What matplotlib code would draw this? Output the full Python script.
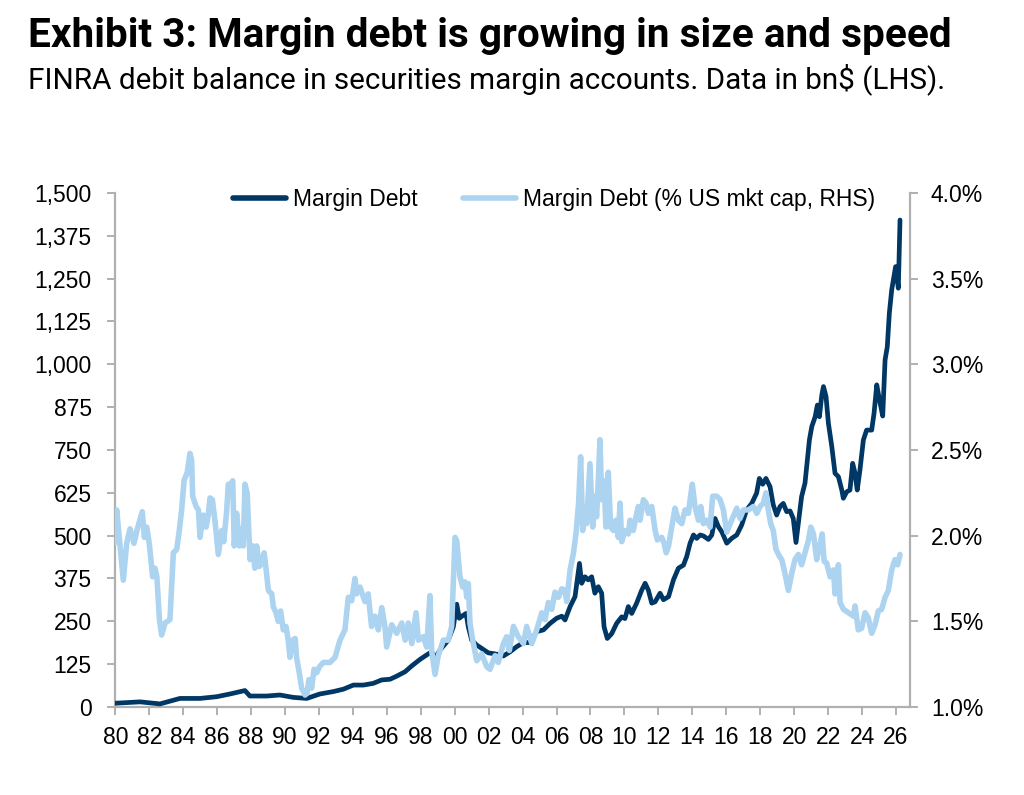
import matplotlib
matplotlib.use("Agg")
import matplotlib.pyplot as plt
from matplotlib.ticker import FuncFormatter, FixedLocator
from matplotlib.lines import Line2D

# ---- data ----
debt_years = [1980.0, 1981.46, 1982.63, 1983.81, 1984.99, 1985.97, 1986.76, 1987.64, 1987.93,
              1988.92, 1989.7, 1990.49, 1991.28, 1992.06, 1992.85, 1993.44, 1994.03, 1994.62,
              1995.2, 1995.7, 1996.19, 1996.58, 1997.08, 1997.47, 1997.96, 1998.35, 1998.64,
              1998.84, 1999.13, 1999.62, 1999.92, 2000.12, 2000.27, 2000.51, 2000.67, 2000.8,
              2001.0, 2001.29, 2001.59, 2001.98, 2002.38, 2002.87, 2003.26, 2003.65, 2004.05,
              2004.44, 2004.83, 2005.23, 2005.62, 2006.01, 2006.31, 2006.5, 2006.8, 2007.09,
              2007.35, 2007.48, 2007.68, 2007.87, 2008.07, 2008.26, 2008.46, 2008.66, 2008.8,
              2008.99, 2009.25, 2009.54, 2009.84, 2010.03, 2010.23, 2010.43, 2010.72, 2011.02,
              2011.22, 2011.41, 2011.61, 2011.81, 2012.1, 2012.3, 2012.6, 2012.89, 2013.18,
              2013.48, 2013.67, 2013.87, 2014.07, 2014.26, 2014.46, 2014.66, 2014.95, 2015.15,
              2015.34, 2015.54, 2015.74, 2016.03, 2016.32, 2016.62, 2016.91, 2017.2, 2017.5,
              2017.79, 2017.95, 2018.15, 2018.34, 2018.58, 2018.77, 2018.97, 2019.17, 2019.36,
              2019.56, 2019.76, 2019.95, 2020.11, 2020.25, 2020.44, 2020.64, 2020.9, 2021.04,
              2021.24, 2021.37, 2021.49, 2021.63, 2021.73, 2021.88, 2022.02, 2022.22, 2022.41,
              2022.61, 2022.81, 2022.9, 2023.1, 2023.29, 2023.45, 2023.59, 2023.72, 2023.88,
              2024.08, 2024.27, 2024.57, 2024.71, 2024.87, 2025.03, 2025.22, 2025.36, 2025.49,
              2025.61, 2025.75, 2025.88, 2025.98, 2026.14, 2026.24]
debt_bn = [11, 15, 9, 25, 25, 30, 38, 48, 32,
           32, 35, 28, 25, 38, 45, 52, 64, 64,
           69, 79, 81, 90, 103, 120, 139, 152, 161,
           142, 166, 195, 234, 300, 259, 268, 273, 234,
           195, 181, 171, 158, 155, 149, 161, 176, 188,
           188, 220, 225, 244, 259, 265, 254, 293, 322,
           419, 361, 380, 371, 380, 332, 351, 332, 234,
           200, 214, 244, 263, 258, 293, 273, 303, 341,
           361, 341, 303, 307, 332, 313, 322, 371, 405,
           414, 439, 478, 502, 492, 502, 499, 489, 502,
           550, 526, 511, 478, 492, 502, 531, 575, 594,
           624, 667, 650, 667, 643, 590, 560, 585, 594,
           570, 572, 550, 480, 536, 614, 653, 779, 818,
           847, 881, 847, 910, 935, 906, 828, 760, 682,
           672, 633, 609, 628, 633, 711, 682, 633, 692,
           779, 808, 808, 857, 940, 896, 849, 1013, 1051,
           1149, 1217, 1256, 1285, 1222, 1421]

pct_years = [1980.0, 1980.08, 1980.47, 1980.67, 1980.87, 1981.1, 1981.3, 1981.59, 1981.71, 1981.85,
             1982.0, 1982.2, 1982.34, 1982.45, 1982.6, 1982.73, 1982.93, 1983.22, 1983.42, 1983.62,
             1983.77, 1983.91, 1984.05, 1984.24, 1984.4, 1984.5, 1984.56, 1984.76, 1984.9, 1984.99,
             1985.19, 1985.35, 1985.48, 1985.58, 1985.72, 1985.87, 1986.07, 1986.27, 1986.39, 1986.56,
             1986.66, 1986.8, 1986.92, 1987.01, 1987.15, 1987.31, 1987.44, 1987.54, 1987.64, 1987.77,
             1987.94, 1988.1, 1988.22, 1988.33, 1988.49, 1988.63, 1988.77, 1988.89, 1989.02, 1989.22,
             1989.31, 1989.47, 1989.6, 1989.74, 1989.9, 1990.06, 1990.19, 1990.29, 1990.45, 1990.6,
             1990.68, 1990.84, 1990.98, 1991.18, 1991.3, 1991.41, 1991.57, 1991.71, 1991.87, 1992.03,
             1992.26, 1992.65, 1992.95, 1993.24, 1993.53, 1993.73, 1993.93, 1994.12, 1994.22, 1994.42,
             1994.71, 1994.9, 1995.1, 1995.3, 1995.5, 1995.7, 1995.89, 1995.99, 1996.29, 1996.58,
             1996.88, 1997.08, 1997.27, 1997.47, 1997.72, 1997.86, 1998.15, 1998.35, 1998.54, 1998.64,
             1998.84, 1999.03, 1999.33, 1999.62, 1999.82, 2000.02, 2000.12, 2000.31, 2000.47, 2000.61,
             2000.71, 2000.8, 2000.9, 2001.06, 2001.3, 2001.59, 2001.89, 2002.08, 2002.38, 2002.57,
             2002.87, 2003.06, 2003.22, 2003.46, 2003.75, 2004.05, 2004.24, 2004.54, 2004.83, 2005.13,
             2005.32, 2005.52, 2005.72, 2005.91, 2006.11, 2006.31, 2006.5, 2006.6, 2006.8, 2007.0,
             2007.15, 2007.3, 2007.42, 2007.54, 2007.68, 2007.77, 2007.97, 2008.13, 2008.26, 2008.36,
             2008.46, 2008.56, 2008.66, 2008.8, 2008.91, 2009.05, 2009.19, 2009.35, 2009.5, 2009.64,
             2009.74, 2009.84, 2010.03, 2010.23, 2010.33, 2010.52, 2010.68, 2010.82, 2010.92, 2011.12,
             2011.28, 2011.41, 2011.61, 2011.81, 2011.94, 2012.2, 2012.34, 2012.46, 2012.6, 2012.79,
             2012.98, 2013.18, 2013.38, 2013.57, 2013.77, 2013.87, 2014.0, 2014.16, 2014.36, 2014.5,
             2014.65, 2014.85, 2015.05, 2015.2, 2015.44, 2015.64, 2015.83, 2016.03, 2016.32, 2016.62,
             2016.81, 2017.01, 2017.3, 2017.6, 2017.8, 2017.99, 2018.19, 2018.34, 2018.48, 2018.62,
             2018.77, 2018.93, 2019.13, 2019.27, 2019.46, 2019.66, 2019.86, 2020.05, 2020.25, 2020.44,
             2020.64, 2020.84, 2020.98, 2021.14, 2021.33, 2021.53, 2021.65, 2021.77, 2021.92, 2022.12,
             2022.32, 2022.41, 2022.61, 2022.71, 2022.91, 2023.2, 2023.5, 2023.59, 2023.78, 2023.98,
             2024.18, 2024.37, 2024.57, 2024.77, 2024.96, 2025.16, 2025.36, 2025.55, 2025.75, 2025.94,
             2026.1, 2026.24]
pct_mktcap = [1.96, 2.15, 1.74, 1.955, 2.04, 1.955, 2.04, 2.14, 1.99, 2.05,
              1.955, 1.76, 1.81, 1.76, 1.51, 1.42, 1.49, 1.51, 1.90, 1.92,
              2.03, 2.15, 2.32, 2.37, 2.48, 2.44, 2.23, 2.17, 2.15, 1.99,
              2.12, 2.05, 2.12, 2.22, 2.21, 2.09, 1.89, 2.03, 1.965, 2.14,
              2.30, 2.30, 2.32, 1.94, 2.13, 1.94, 2.04, 1.94, 2.30, 2.25,
              1.86, 1.94, 1.81, 1.94, 1.82, 1.84, 1.90, 1.80, 1.68, 1.66,
              1.585, 1.55, 1.50, 1.56, 1.45, 1.47, 1.39, 1.29, 1.39, 1.40,
              1.29, 1.20, 1.11, 1.07, 1.08, 1.16, 1.11, 1.22, 1.20, 1.235,
              1.26, 1.26, 1.29, 1.39, 1.45, 1.64, 1.62, 1.75, 1.66, 1.70,
              1.615, 1.66, 1.47, 1.53, 1.45, 1.58, 1.47, 1.35, 1.48, 1.43,
              1.49, 1.39, 1.49, 1.37, 1.55, 1.39, 1.41, 1.35, 1.65, 1.33,
              1.19, 1.30, 1.39, 1.39, 1.47, 1.99, 1.97, 1.76, 1.70, 1.73,
              1.64, 1.72, 1.49, 1.39, 1.27, 1.31, 1.235, 1.22, 1.30, 1.26,
              1.37, 1.41, 1.33, 1.47, 1.41, 1.37, 1.47, 1.37, 1.45, 1.55,
              1.51, 1.61, 1.57, 1.67, 1.64, 1.69, 1.68, 1.615, 1.80, 1.90,
              2.015, 2.19, 2.46, 2.03, 2.13, 2.07, 2.42, 2.05, 2.23, 2.11,
              2.32, 2.56, 2.21, 2.32, 2.05, 2.37, 2.05, 2.03, 2.09, 1.99,
              2.19, 1.965, 2.03, 2.01, 2.09, 2.03, 2.11, 2.17, 2.09, 2.21,
              2.19, 2.13, 2.17, 2.03, 1.975, 1.99, 1.955, 1.90, 1.94, 2.05,
              2.16, 2.09, 2.07, 2.15, 2.13, 2.21, 2.30, 2.17, 2.09, 2.17,
              2.07, 2.09, 2.05, 2.23, 2.23, 2.21, 2.15, 2.02, 2.09, 2.16,
              2.10, 2.15, 2.15, 2.17, 2.13, 2.17, 2.19, 2.25, 2.15, 2.07,
              2.03, 1.92, 1.88, 1.86, 1.78, 1.68, 1.78, 1.86, 1.89, 1.83,
              1.90, 1.97, 2.05, 2.01, 1.86, 1.95, 2.01, 1.85, 1.84, 1.76,
              1.80, 1.66, 1.83, 1.61, 1.57, 1.55, 1.53, 1.59, 1.45, 1.46,
              1.55, 1.52, 1.43, 1.48, 1.56, 1.57, 1.64, 1.68, 1.80, 1.86,
              1.83, 1.89]

left_ticks = [0, 125, 250, 375, 500, 625, 750, 875, 1000, 1125, 1250, 1375, 1500]
right_ticks = [1.0, 1.5, 2.0, 2.5, 3.0, 3.5, 4.0]
x_tick_years = list(range(1980, 2027, 2))
x_tick_labels = [f"{y % 100:02d}" for y in x_tick_years]

title = "Exhibit 3: Margin debt is growing in size and speed"
subtitle = "FINRA debit balance in securities margin accounts. Data in bn$ (LHS)."
legend_labels = ["Margin Debt", "Margin Debt (% US mkt cap, RHS)"]

# ---- style ----
DARK = "#003764"
LIGHT = "#acd3f0"
GRAY = "#b0b0b0"
plt.rcParams['font.family'] = ['Liberation Sans', 'DejaVu Sans']

fig = plt.figure(figsize=(10.24, 7.95), dpi=100)
ax = fig.add_axes([0.1126, 0.1107, 0.7761, 0.6466])
ax2 = ax.twinx()

ax.plot(debt_years, debt_bn, color=DARK, lw=3.4, solid_capstyle='round', solid_joinstyle='round', zorder=3)
ax2.plot(pct_years, pct_mktcap, color=LIGHT, lw=4.0, solid_capstyle='round', solid_joinstyle='round', zorder=2)

ax.set_xlim(1980, 2026.83)
ax.set_ylim(0, 1500)
ax2.set_ylim(1.0, 4.0)

ax.yaxis.set_major_locator(FixedLocator(left_ticks))
ax.yaxis.set_major_formatter(FuncFormatter(lambda v, p: f"{int(v):,}"))
ax2.yaxis.set_major_locator(FixedLocator(right_ticks))
ax2.yaxis.set_major_formatter(FuncFormatter(lambda v, p: f"{v:.1f}%"))
ax.set_xticks(x_tick_years)
ax.set_xticklabels(x_tick_labels)

for a in (ax, ax2):
    a.spines['top'].set_visible(False)
    for s in ('left', 'right', 'bottom'):
        a.spines[s].set_color(GRAY)
        a.spines[s].set_linewidth(1.6)
    a.tick_params(axis='both', direction='out', length=6, width=1.4, color=GRAY,
                  labelsize=16.5, labelcolor='black')
ax.tick_params(axis='y', pad=11)
ax.tick_params(axis='x', pad=8)
ax2.tick_params(axis='y', pad=9)
ax.spines['right'].set_visible(False)
ax2.spines['left'].set_visible(False)
ax2.spines['bottom'].set_visible(False)

handles = [Line2D([], [], color=DARK, lw=4, solid_capstyle='round'),
           Line2D([], [], color=LIGHT, lw=4, solid_capstyle='round')]
ax2.legend(handles, legend_labels, loc='upper center', bbox_to_anchor=(0.552, 1.036), ncol=2,
           frameon=False, fontsize=16.5, handlelength=2.3, handletextpad=0.3, columnspacing=2.0,
           borderaxespad=0.2)

fig.text(0.027, 0.941, title, fontsize=29.2, fontweight='bold',
         family=['Roboto', 'Liberation Sans'], ha='left', va='baseline')
fig.text(0.027, 0.889, subtitle, fontsize=21.3,
         family=['Roboto', 'Liberation Sans'], ha='left', va='baseline')

fig.savefig("out.png", dpi=100)
